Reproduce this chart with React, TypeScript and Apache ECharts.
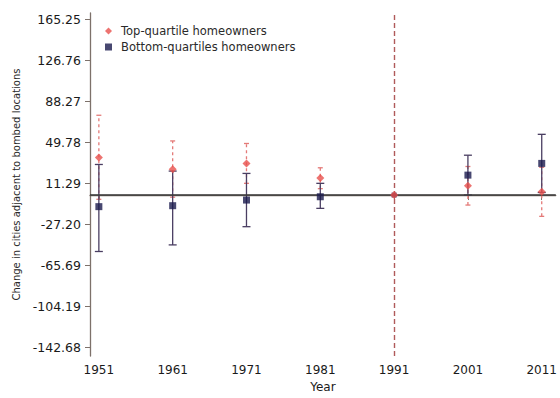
import React, { useEffect, useRef } from "react";
import * as echarts from "echarts";

const years = [1951, 1961, 1971, 1981, 1991, 2001, 2011];
const topEst = [35.3, 24.3, 29.7, 15.9, 0, 8.7, 3.0];
const topLo = [-4, -2, 11, 6, 0, -9.4, -20];
const topHi = [74.9, 50.8, 48.4, 25.6, 0, 26.8, 26];
const botEst = [-10.9, -10.0, -4.7, -1.6, 0, 18.7, 29.7];
const botLo = [-53, -46.8, -29.7, -12.5, 0, 0, 2.4];
const botHi = [28.7, 22.5, 20.3, 11, 0, 37.4, 57];
const yTicks = [-142.68, -104.19, -65.69, -27.2, 11.29, 49.78, 88.27, 126.76, 165.25];
const xTicks = [1951, 1961, 1971, 1981, 1991, 2001, 2011];
const referenceYear = 1991;

const RED = "#e8504c";
const NAVY = "#1a1a4e";
const FONT = "DejaVu Sans";

function errorSeries(name: string, lo: number[], hi: number[], color: string, dash: number[] | null, cap: number, z: number) {
  const data = years
    .map((y, i) => [y, lo[i], hi[i]])
    .filter((d) => d[1] !== d[2]);
  return {
    type: "custom",
    name: name + "-ci",
    z,
    silent: true,
    data,
    encode: { x: 0, y: [1, 2] },
    renderItem: (params: any, api: any) => {
      const x = api.value(0);
      const pLo = api.coord([x, api.value(1)]);
      const pHi = api.coord([x, api.value(2)]);
      const style: any = { stroke: color, lineWidth: 1.3, fill: "none" };
      if (dash) style.lineDash = dash;
      const capStyle: any = { stroke: color, lineWidth: 1.3 };
      return {
        type: "group",
        children: [
          { type: "line", shape: { x1: pLo[0], y1: pLo[1], x2: pHi[0], y2: pHi[1] }, style },
          { type: "line", shape: { x1: pHi[0] - cap, y1: pHi[1], x2: pHi[0] + cap, y2: pHi[1] }, style: capStyle },
          { type: "line", shape: { x1: pLo[0] - cap, y1: pLo[1], x2: pLo[0] + cap, y2: pLo[1] }, style: capStyle },
        ],
      };
    },
  };
}

export default function App() {
  const ref = useRef<HTMLDivElement>(null);
  useEffect(() => {
    if (!ref.current) return;
    const chart = echarts.init(ref.current, null, { renderer: "svg" });
    const axisColor = "#7d716a";
    chart.setOption({
      animation: false,
      backgroundColor: "#ffffff",
      grid: { left: 90, right: 0, top: 13, bottom: 41 },
      legend: {
        left: 100,
        top: 20,
        orient: "vertical",
        itemWidth: 7,
        itemHeight: 7,
        itemGap: 4,
        textStyle: { fontFamily: FONT, fontSize: 11.5, color: "#2a2a2a", padding: [0, 0, 0, 4] },
        data: [
          { name: "Top-quartile homeowners", icon: "diamond" },
          { name: "Bottom-quartiles homeowners", icon: "rect" },
        ],
      },
      xAxis: {
        type: "value",
        min: 1949.8,
        max: 2012.9,
        name: "Year",
        nameLocation: "middle",
        nameGap: 25,
        nameTextStyle: { fontFamily: FONT, fontSize: 12, color: "#1a1a1a" },
        axisLine: { show: true, lineStyle: { color: axisColor, width: 1.3 } },
        axisTick: { show: true, length: 5, customValues: xTicks, lineStyle: { color: axisColor } },
        axisLabel: {
          customValues: xTicks,
          margin: 8,
          fontFamily: FONT,
          fontSize: 12,
          color: "#1a1a1a",
          formatter: (v: number) => String(v),
        },
        splitLine: { show: false },
      },
      yAxis: {
        type: "value",
        min: -151.1,
        max: 170.9,
        name: "Change in cities adjacent to bombed locations",
        nameLocation: "middle",
        nameGap: 68,
        nameTextStyle: { fontFamily: FONT, fontSize: 10, color: "#2a2a2a" },
        axisLine: { show: true, lineStyle: { color: axisColor, width: 1.3 } },
        axisTick: { show: true, length: 5, customValues: yTicks, lineStyle: { color: axisColor } },
        axisLabel: {
          customValues: yTicks,
          margin: 9,
          fontFamily: FONT,
          fontSize: 12.5,
          color: "#1a1a1a",
          formatter: (v: number) => v.toFixed(2),
        },
        splitLine: { show: false },
      },
      series: [
        {
          type: "line",
          name: "ref",
          data: [],
          silent: true,
          markLine: {
            silent: true,
            symbol: "none",
            label: { show: false },
            data: [
              { yAxis: 0, lineStyle: { color: "#3a3a3a", width: 1.6, type: "solid" } },
              { xAxis: referenceYear, lineStyle: { color: "#b05a5a", width: 1.4, type: [5, 3] } },
            ],
          },
        },
        errorSeries("top", topLo, topHi, "#e47a78", [3, 3], 2.5, 3),
        errorSeries("bot", botLo, botHi, "#4a3e62", null, 4, 4),
        {
          type: "scatter",
          name: "Bottom-quartiles homeowners",
          symbol: "rect",
          symbolSize: (v: number[]) => (v[0] === referenceYear ? 5 : 7),
          itemStyle: { color: NAVY },
          data: years.map((y, i) => [y, botEst[i]]),
          z: 5,
        },
        {
          type: "scatter",
          name: "Top-quartile homeowners",
          symbol: "diamond",
          symbolSize: 8,
          itemStyle: { color: RED },
          data: years.map((y, i) => [y, topEst[i]]),
          z: 6,
        },
      ],
    });
    return () => chart.dispose();
  }, []);
  return <div ref={ref} style={{ position: "fixed", left: 0, top: 0, width: 560, height: 398 }} />;
}
